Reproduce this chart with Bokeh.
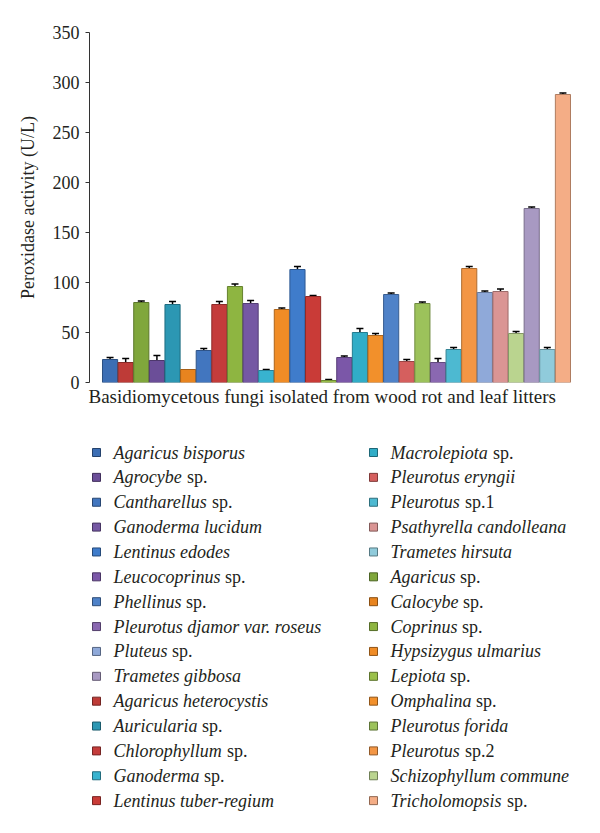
from bokeh.plotting import figure
from bokeh.models import ColumnDataSource, Range1d, FixedTicker, Whisker, TeeHead, Title
from bokeh.layouts import column
from bokeh.core.properties import value
from bokeh.embed import file_html
from bokeh.resources import INLINE

# ---------------- data (bar order) ----------------
genus = ["Agaricus bisporus", "Agaricus heterocystis", "Agaricus", "Agrocybe", "Auricularia",
         "Calocybe", "Cantharellus", "Chlorophyllum", "Coprinus", "Ganoderma lucidum",
         "Ganoderma", "Hypsizygus ulmarius", "Lentinus edodes", "Lentinus tuber-regium", "Lepiota",
         "Leucocoprinus", "Macrolepiota", "Omphalina", "Phellinus", "Pleurotus eryngii",
         "Pleurotus forida", "Pleurotus djamor var. roseus", "Pleurotus", "Pleurotus", "Pluteus",
         "Psathyrella candolleana", "Schizophyllum commune", "Trametes gibbosa", "Trametes hirsuta", "Tricholomopsis"]
suffix = ["", "", "sp.", "sp.", "sp.",
          "sp.", "sp.", "sp.", "sp.", "",
          "sp.", "", "", "", "sp.",
          "sp.", "sp.", "sp.", "sp.", "",
          "", "", "sp.1", "sp.2", "sp.",
          "", "", "", "", "sp."]
activity = [23, 20, 80, 22, 78, 13, 32, 78, 96, 79, 12, 73, 113, 86, 2,
            25, 50, 47, 88, 21, 79, 20, 33, 114, 90, 91, 49, 174, 33, 288]
error = [2, 4, 1.5, 5, 3, 0, 2, 3, 2.5, 3, 1, 1.5, 3, 1, 1,
         1.5, 4, 2, 1.5, 2, 1.5, 4, 2, 2, 1.5, 2.5, 2, 1.5, 2, 1.5]
colors = ["#3C6EB4", "#BE3B37", "#80A73C", "#6B4E98", "#2C97B3", "#E8841F",
          "#4276BF", "#C43C3B", "#8EB541", "#7558A3", "#38B3CF", "#F08C26",
          "#3F7CCB", "#C93B37", "#9AC04A", "#7B57A8", "#31ADC7", "#F2902B",
          "#4F82C8", "#D55F5E", "#9CC25B", "#8A68B1", "#4DB9D1", "#F39645",
          "#8FA9D9", "#DA9594", "#BAD48F", "#A899C2", "#90CBDB", "#F4AD86"]
y_ticks = [0, 50, 100, 150, 200, 250, 300, 350]
x_title = "Basidiomycetous fungi isolated from wood rot and leaf litters"
y_title = "Peroxidase activity (U/L)"

# legend layout (Excel fills its legend in this order)
legend_order = [0, 3, 6, 9, 12, 15, 18, 21, 24, 27, 1, 4, 7, 10, 13,
                16, 19, 22, 25, 28, 2, 5, 8, 11, 14, 17, 20, 23, 26, 29]

FONT = "Liberation Serif"
TXT = "#231F20"

LEFT, FRAME_W, RIGHT = 89, 494, 9
W = LEFT + FRAME_W + RIGHT


def darker(c, f=0.72):
    r, g, b = int(c[1:3], 16), int(c[3:5], 16), int(c[5:7], 16)
    return "#%02X%02X%02X" % (int(r * f), int(g * f), int(b * f))


n = len(activity)
xs = list(range(1, n + 1))
src = ColumnDataSource(dict(
    x=xs, top=activity, color=colors, edge=[darker(c) for c in colors]))

p = figure(width=W, height=415, x_range=Range1d(-0.317, 31.317), y_range=Range1d(0, 350),
           output_backend="svg", toolbar_location=None,
           min_border_left=LEFT, min_border_right=RIGHT, min_border_top=32, min_border_bottom=33)
p.vbar(x="x", top="top", bottom=0, width=0.97, fill_color="color", line_color="edge",
       line_width=1, source=src)

wx = [x for x, e in zip(xs, error) if e > 0]
wu = [a + e for a, e in zip(activity, error) if e > 0]
wl = [a - e for a, e in zip(activity, error) if e > 0]
wsrc = ColumnDataSource(dict(x=wx, upper=wu, lower=wl))
w = Whisker(source=wsrc, base="x", upper="upper", lower="lower",
            line_color="black", line_width=1.5,
            upper_head=TeeHead(size=7, line_color="black", line_width=1.5),
            lower_head=TeeHead(size=7, line_color="black", line_width=1.5))
p.add_layout(w)

p.xgrid.visible = False
p.ygrid.visible = False
p.outline_line_color = None

p.yaxis.ticker = FixedTicker(ticks=y_ticks)
p.yaxis.minor_tick_line_color = None
p.yaxis.major_tick_in = 0
p.yaxis.major_tick_out = 4
p.yaxis.axis_line_color = "#333333"
p.yaxis.major_tick_line_color = "#333333"
p.yaxis.major_label_text_font = FONT
p.yaxis.major_label_text_font_size = "18px"
p.yaxis.major_label_text_color = TXT
p.yaxis.major_label_standoff = 6
p.yaxis.axis_label = y_title
p.yaxis.axis_label_text_font = FONT
p.yaxis.axis_label_text_font_size = "18px"
p.yaxis.axis_label_text_font_style = "normal"
p.yaxis.axis_label_text_color = TXT
p.yaxis.axis_label_standoff = 12

# x axis: no ticks, no line; its title is set slightly left of centre as in the original
p.xaxis.visible = False
p.add_layout(Title(text=x_title, align="left", offset=-1, standoff=3,
                   text_font=FONT, text_font_size="19px", text_font_style="normal",
                   text_color=TXT), "below")

# ---------------- legend (separate panel, frame aligned with chart) ----------------
# Times/Liberation Serif Italic advance widths (1/1000 em)
ITW = {' ': 250, '.': 250, '-': 333, 'A': 611, 'C': 667, 'G': 722, 'H': 722, 'L': 556,
       'M': 833, 'O': 722, 'P': 611, 'S': 500, 'T': 556,
       'a': 500, 'b': 500, 'c': 444, 'd': 500, 'e': 444, 'f': 278, 'g': 500, 'h': 500,
       'i': 278, 'j': 278, 'k': 444, 'l': 278, 'm': 722, 'n': 500, 'o': 500, 'p': 500,
       'q': 500, 'r': 389, 's': 389, 't': 278, 'u': 500, 'v': 444, 'w': 667, 'x': 444,
       'y': 444, 'z': 389}
FS = 18


def italic_width(s):
    return sum(ITW.get(ch, 500) for ch in s) / 1000.0 * FS


rows_per_col = 15
mx, my, tx, sx, lab, sfx, mc, me = [], [], [], [], [], [], [], []
for k, idx in enumerate(legend_order):
    col = k // rows_per_col
    row = k % rows_per_col
    base_marker = 96 + col * 277
    base_text = 113 + col * 277
    mx.append(base_marker)
    my.append(row)
    tx.append(base_text)
    sx.append(base_text + italic_width(genus[idx]) + 0.25 * FS)
    lab.append(genus[idx])
    sfx.append(suffix[idx])
    mc.append(colors[idx])
    me.append(darker(colors[idx], 0.6))

lsrc = ColumnDataSource(dict(mx=mx, y=my, tx=tx, sx=sx, lab=lab, sfx=sfx, mc=mc, me=me))

q = figure(width=W, height=410, x_range=Range1d(LEFT, LEFT + FRAME_W), y_range=Range1d(15.0, -1.488),
           output_backend="svg", toolbar_location=None,
           min_border_left=LEFT, min_border_right=RIGHT, min_border_top=0, min_border_bottom=0)
q.axis.visible = False
q.xgrid.visible = False
q.ygrid.visible = False
q.outline_line_color = None
q.scatter(x="mx", y="y", marker="square", size=8, fill_color="mc", line_color="me",
          line_width=1, source=lsrc)
q.text(x="tx", y="y", text="lab", text_font=value(FONT), text_font_style="italic",
       text_font_size="18px", text_baseline="middle", text_color=TXT, source=lsrc)
q.text(x="sx", y="y", text="sfx", text_font=value(FONT), text_font_style="normal",
       text_font_size="18px", text_baseline="middle", text_color=TXT, source=lsrc)

layout = column(p, q, spacing=0)
open("out.html", "w").write(file_html(layout, INLINE))
